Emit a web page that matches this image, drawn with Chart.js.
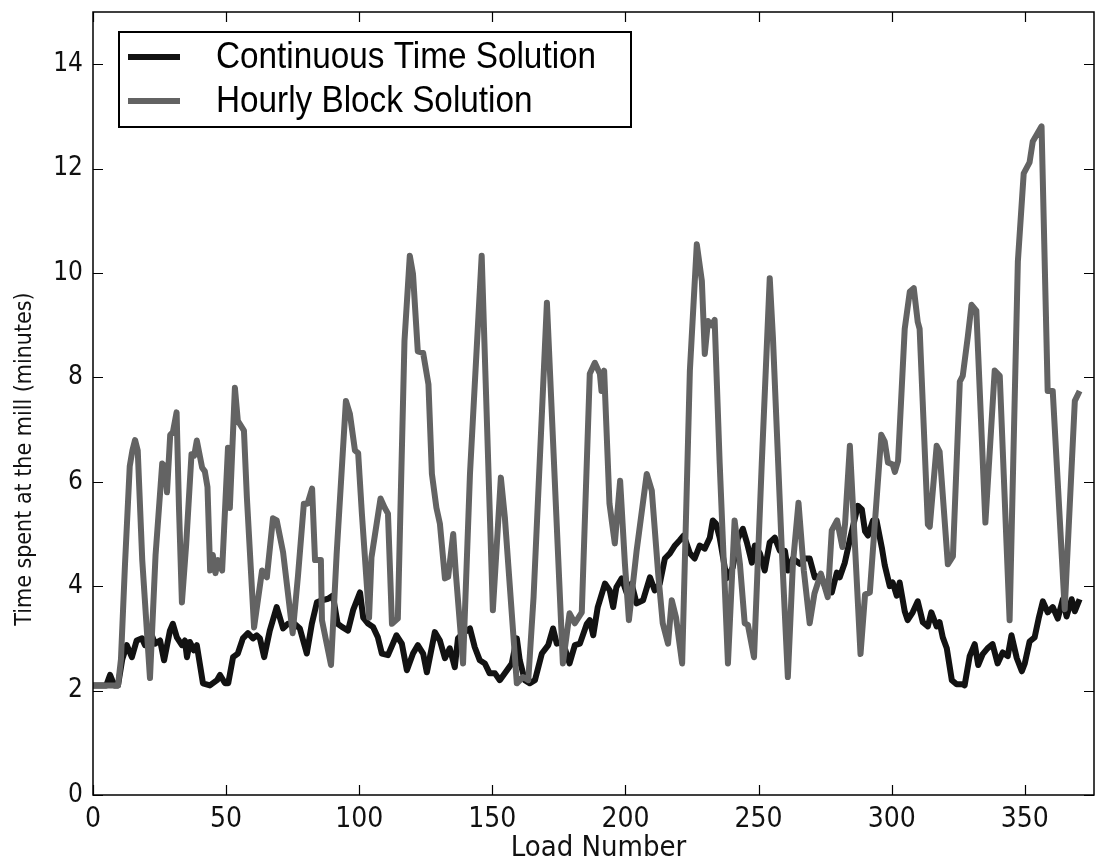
<!DOCTYPE html>
<html>
<head>
<meta charset="utf-8">
<script src="https://cdn.jsdelivr.net/npm/chart.js@4.4.1/dist/chart.umd.min.js"></script>
<style>
    html, body {margin: 0; padding: 0; background: #fff;}
    #wrap {width: 1097px; height: 863px;}
</style>
</head>
<body>
<div id="wrap"><canvas id="chart" width="1097" height="863"></canvas></div>
<script>
// [load number, minutes]
const continuousSeries = [
    [0, 2.1], [5, 2.1], [6.4, 2.3], [8, 2.1], [9.4, 2.1], [11, 2.6], [12.7, 2.87], [14.6, 2.64], [16.4, 2.96], [18.4, 3.0],
    [19.5, 2.87], [21.4, 3.15], [23.3, 2.9], [25.2, 2.96], [26.7, 2.58], [28.9, 3.15], [30, 3.28], [31.5, 3.02], [33.4, 2.87], [34.5, 2.96],
    [35.3, 2.64], [36.4, 2.93], [37.9, 2.77], [39, 2.87], [41.3, 2.14], [43.9, 2.1], [46.6, 2.2], [47.7, 2.3], [49.6, 2.14], [50.8, 2.14],
    [52.6, 2.64], [54.4, 2.71], [56.3, 3.0], [58.2, 3.1], [60.1, 3.0], [61.5, 3.06], [62.7, 3.0], [64.3, 2.64], [66.4, 3.15], [69, 3.6],
    [71.4, 3.19], [73.2, 3.28], [75.7, 3.28], [77.7, 3.19], [80.3, 2.71], [82.2, 3.28], [84.1, 3.69], [86, 3.73], [88.3, 3.76], [90.1, 3.82],
    [91.9, 3.28], [93.5, 3.22], [95.8, 3.15], [97.7, 3.54], [100.3, 3.88], [101.5, 3.4], [103.4, 3.28], [105.2, 3.22], [107, 3.02], [108.5, 2.71],
    [110.8, 2.68], [114, 3.06], [116, 2.9], [117.9, 2.39], [120.2, 2.71], [122, 2.87], [124, 2.71], [125.4, 2.35], [128.4, 3.12], [130.3, 2.96],
    [132.2, 2.62], [134, 2.81], [135.9, 2.45], [137.1, 3.0], [139, 3.1], [141.6, 3.19], [143.4, 2.83], [145.3, 2.58], [147.2, 2.52], [149, 2.33],
    [151, 2.33], [152.8, 2.2], [155.5, 2.39], [157.3, 2.52], [159.2, 3.0], [160.3, 2.58], [162.2, 2.2], [164, 2.14], [166, 2.2], [168.6, 2.71],
    [171, 2.87], [172.8, 3.19], [174.2, 2.9], [176.5, 2.93], [179, 2.52], [181, 2.87], [182.9, 2.9], [185.5, 3.28], [186.6, 3.35], [187.9, 3.06],
    [189.6, 3.6], [192.3, 4.05], [194.1, 3.92], [195.4, 3.6], [196.6, 3.98], [198.6, 4.15], [200.4, 3.88], [202.3, 4.05], [204.2, 3.67], [206.6, 3.73],
    [209.2, 4.17], [211, 3.92], [212.9, 4.05], [214.8, 4.53], [216.7, 4.63], [218.6, 4.78], [220.4, 4.88], [221.9, 4.97], [224.2, 4.63], [226, 4.53],
    [227.9, 4.78], [229.8, 4.72], [231.7, 4.93], [232.8, 5.26], [234, 5.2], [235.4, 4.93], [238, 4.15], [240.3, 4.36], [242.2, 4.91], [244.1, 5.1],
    [245.6, 4.84], [247.5, 4.45], [248.6, 4.78], [250.5, 4.63], [252.3, 4.3], [254.2, 4.84], [256.1, 4.93], [258, 4.68], [259.9, 4.68], [261, 4.3],
    [262.9, 4.53], [265.5, 4.43], [267.4, 4.53], [269.2, 4.53], [271.1, 4.17], [273.4, 4.2], [275.6, 3.92], [277.5, 3.88], [279.4, 4.26], [280.5, 4.17],
    [282.4, 4.45], [284.3, 4.89], [287.3, 5.54], [288.8, 5.47], [290, 5.05], [291.1, 4.97], [293, 5.26], [294.3, 5.26], [296.3, 4.74], [297.4, 4.4],
    [299.3, 4.0], [300.4, 4.07], [301.9, 3.82], [303, 4.07], [304.9, 3.52], [306, 3.35], [307.9, 3.5], [309.8, 3.71], [311.7, 3.31], [313.6, 3.23],
    [314.9, 3.5], [316.9, 3.23], [318, 3.31], [319.2, 3.02], [320.7, 2.81], [322.6, 2.2], [324.4, 2.12], [326.7, 2.12], [327.4, 2.1], [329.3, 2.66],
    [331.2, 2.89], [332.5, 2.49], [334.2, 2.7], [336, 2.81], [337.9, 2.89], [339.8, 2.52], [341.7, 2.73], [343.6, 2.66], [345, 3.06], [347, 2.62],
    [348.9, 2.37], [350, 2.52], [351.8, 2.94], [353.7, 3.02], [355.2, 3.38], [356.8, 3.71], [358.6, 3.5], [360.5, 3.6], [362.4, 3.38], [364.3, 3.75],
    [365.7, 3.42], [367.6, 3.75], [368.8, 3.52], [370.6, 3.75]
];

const hourlySeries = [
    [0, 2.1], [9.4, 2.1], [10.5, 2.6], [12, 4.4], [13.8, 6.3], [14.8, 6.6], [15.8, 6.8], [16.8, 6.6], [18.5, 4.5], [21.4, 2.24],
    [23.5, 4.6], [26, 6.35], [27, 6.3], [27.8, 5.8], [29, 6.9], [30, 6.95], [31.4, 7.33], [32.3, 5.5], [33.4, 3.69], [35, 4.8],
    [37, 6.53], [38, 6.5], [39, 6.79], [41, 6.27], [42, 6.2], [43, 5.9], [44, 4.3], [45, 4.6], [46, 4.25], [47, 4.5],
    [48.5, 4.3], [50.7, 6.65], [51.4, 5.5], [53.3, 7.8], [54.4, 7.17], [56.7, 6.98], [57.8, 5.7], [60.5, 3.21], [63.5, 4.3], [65.3, 4.17],
    [67.6, 5.3], [69, 5.26], [71.4, 4.65], [75, 3.1], [77, 4.2], [79.2, 5.58], [80.6, 5.58], [82.3, 5.87], [83.4, 4.5], [85.6, 4.5],
    [86, 3.35], [89.4, 2.49], [91.5, 4.6], [95, 7.55], [96.5, 7.3], [98.4, 6.6], [99.6, 6.55], [101, 5.39], [103.7, 3.4], [104.6, 4.55],
    [108, 5.68], [109.6, 5.5], [110.8, 5.39], [112.3, 3.28], [114.5, 3.38], [117, 8.7], [119, 10.33], [120.2, 9.98], [122, 8.5], [124, 8.47],
    [126, 7.87], [127.3, 6.15], [129, 5.5], [130.3, 5.2], [132.2, 4.15], [133.4, 4.18], [135.3, 5.0], [136.3, 4.24], [139, 2.52], [141.6, 6.15],
    [146, 10.33], [150.2, 3.54], [153.2, 6.08], [154.7, 5.32], [159.2, 2.14], [161.5, 2.26], [163.5, 2.2], [165.5, 3.8], [170.5, 9.43], [176.5, 2.52],
    [179, 3.48], [181, 3.29], [183.6, 3.5], [186.6, 8.07], [188.5, 8.28], [190.4, 8.07], [191, 7.74], [192, 8.13], [194, 5.58], [196, 4.82],
    [198, 6.02], [199.8, 4.43], [201.3, 3.35], [204.2, 4.68], [208, 6.15], [209.9, 5.83], [212.3, 4.24], [214, 3.29], [216, 2.9], [217.4, 3.73],
    [219, 3.4], [221.3, 2.52], [224.2, 8.13], [226.8, 10.55], [228.7, 9.85], [229.8, 8.45], [231, 9.08], [232.4, 9.0], [233.5, 9.1], [235.4, 6.35],
    [238.5, 2.52], [241, 5.26], [243, 4.43], [244.8, 3.29], [246, 3.26], [248.3, 2.64], [251.2, 6.35], [254.2, 9.9], [255.4, 8.76], [258.7, 4.74],
    [261, 2.26], [262.9, 4.43], [265, 5.6], [267, 4.3], [269.2, 3.29], [271, 3.86], [273.4, 4.24], [276, 3.79], [277.5, 5.07], [279.5, 5.26],
    [281.5, 4.75], [282.5, 5.2], [284.3, 6.69], [288.3, 2.7], [290, 3.84], [291.8, 3.88], [296.1, 6.9], [297.4, 6.77], [298.6, 6.37], [300.4, 6.33],
    [301.2, 6.19], [302.4, 6.4], [304.9, 8.93], [306.8, 9.64], [308.3, 9.71], [309.8, 9.06], [310.5, 8.93], [313.6, 5.18], [314.3, 5.14], [316.9, 6.69],
    [318, 6.58], [321.1, 4.42], [323, 4.57], [325.6, 7.92], [326.7, 8.03], [328.6, 8.78], [330, 9.39], [331.8, 9.28], [335.2, 5.22], [338.7, 8.13],
    [340.6, 8.03], [344.3, 3.35], [347.4, 10.22], [349.6, 11.91], [351.8, 12.12], [353, 12.52], [356.3, 12.81], [358.6, 7.74], [360.5, 7.74], [365, 3.56],
    [368.8, 7.55], [370.6, 7.74]
];

const seriesNames = ["Continuous Time Solution", "Hourly Block Solution"];
const xTickValues = [0, 50, 100, 150, 200, 250, 300, 350];
const yTickValues = [0, 2, 4, 6, 8, 10, 12, 14];

const axisFont = '"DejaVu Sans Condensed", "DejaVu Sans", sans-serif';

const toPoints = series => series.map(p => ({x: p[0], y: p[1]}));

// frame, inward ticks on all four sides, axis titles and the boxed legend
const framePlugin = {
    id: "frame",
    afterDraw(chart) {
        const {ctx, chartArea: a, scales} = chart;
        const x = scales.x, y = scales.y;
        ctx.save();
        ctx.strokeStyle = "#000";
        ctx.lineWidth = 1.5;
        ctx.strokeRect(a.left, a.top, a.right - a.left, a.bottom - a.top);

        ctx.lineWidth = 1.2;
        ctx.beginPath();
        x.ticks.forEach(t => {
            const px = Math.round(x.getPixelForValue(t.value)) + 0.5;
            ctx.moveTo(px, a.bottom); ctx.lineTo(px, a.bottom - 10);
            ctx.moveTo(px, a.top); ctx.lineTo(px, a.top + 10);
        });
        y.ticks.forEach(t => {
            const py = Math.round(y.getPixelForValue(t.value)) + 0.5;
            ctx.moveTo(a.left, py); ctx.lineTo(a.left + 10, py);
            ctx.moveTo(a.right, py); ctx.lineTo(a.right - 10, py);
        });
        ctx.stroke();

        // axis titles
        ctx.fillStyle = "#111";
        ctx.textAlign = "center";
        ctx.textBaseline = "middle";
        ctx.font = "29px " + axisFont;
        ctx.fillText("Load Number", (a.left + a.right) / 2 + 5, 848);
        ctx.save();
        ctx.translate(25, 459);
        ctx.rotate(-Math.PI / 2);
        ctx.font = "23px " + axisFont;
        ctx.fillText("Time spent at the mill (minutes)", 0, 0);
        ctx.restore();

        // legend
        ctx.fillStyle = "#fff";
        ctx.fillRect(119, 32, 512, 95);
        ctx.strokeStyle = "#000";
        ctx.lineWidth = 2;
        ctx.strokeRect(119, 32, 512, 95);
        chart.data.datasets.forEach((ds, i) => {
            const ly = 57 + i * 44;
            ctx.strokeStyle = ds.borderColor;
            ctx.lineWidth = 6;
            ctx.beginPath();
            ctx.moveTo(128, ly); ctx.lineTo(180, ly);
            ctx.stroke();
            ctx.save();
            ctx.translate(216, ly + 1);
            ctx.scale(0.9, 1);
            ctx.fillStyle = "#000";
            ctx.textAlign = "left";
            ctx.font = '37px "Liberation Sans", Arial, sans-serif';
            ctx.fillText(ds.label, 0, 0);
            ctx.restore();
        });
        ctx.restore();
    }
};

new Chart(document.getElementById("chart"), {
    type: "line",
    data: {
        datasets: [
            {
                label: seriesNames[0],
                data: toPoints(continuousSeries),
                borderColor: "#121212",
                borderWidth: 6,
                order: 1
            },
            {
                label: seriesNames[1],
                data: toPoints(hourlySeries),
                borderColor: "#636363",
                borderWidth: 6,
                order: 0
            }
        ]
    },
    options: {
        responsive: false,
        animation: false,
        layout: {padding: {left: 0, right: 3, top: 12, bottom: 0}},
        elements: {
            point: {radius: 0},
            line: {tension: 0, borderJoinStyle: "round", borderCapStyle: "butt"}
        },
        plugins: {legend: {display: false}, tooltip: {enabled: false}},
        scales: {
            x: {
                type: "linear",
                min: 0,
                max: 376,
                grid: {display: false, drawTicks: false},
                border: {display: false},
                afterBuildTicks: s => { s.ticks = xTickValues.map(v => ({value: v})); },
                afterFit: s => { s.height = 68; s.paddingLeft = 0; s.paddingRight = 0; },
                ticks: {color: "#111", padding: 8, maxRotation: 0, font: {family: axisFont, size: 28}}
            },
            y: {
                min: 0,
                max: 15,
                grid: {display: false, drawTicks: false},
                border: {display: false},
                afterBuildTicks: s => { s.ticks = yTickValues.map(v => ({value: v})); },
                afterFit: s => { s.width = 93; s.paddingTop = 0; s.paddingBottom = 0; },
                ticks: {color: "#111", padding: 10, font: {family: axisFont, size: 26}}
            }
        }
    },
    plugins: [framePlugin]
});
</script>
</body>
</html>
